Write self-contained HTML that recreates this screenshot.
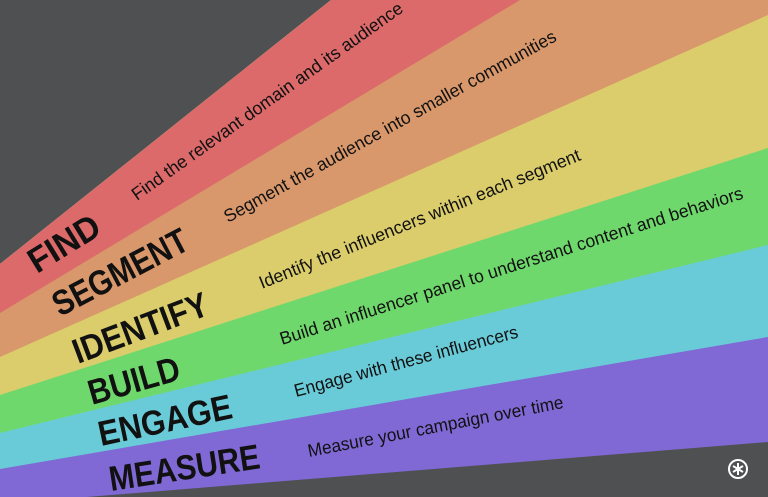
<!DOCTYPE html>
<html><head><meta charset="utf-8"><style>
html,body{margin:0;padding:0;background:#4f5052;}
svg{display:block}
</style></head><body>
<svg width="768" height="497" viewBox="0 0 768 497" xmlns="http://www.w3.org/2000/svg">
<rect width="768" height="497" fill="#4f5052"/>
<polygon points="0,264 331,0 768,0 768,442 0,504" fill="#8069d4"/>
<polygon points="0,264 331,0 768,0 768,337 0,469" fill="#6acbd8"/>
<polygon points="0,264 331,0 768,0 768,245 0,433" fill="#6fd86c"/>
<polygon points="0,264 331,0 768,0 768,148 0,395" fill="#dbcd6c"/>
<polygon points="0,264 331,0 768,0 768,15 0,357" fill="#d8986b"/>
<polygon points="0,264 331,0 520,0 0,313" fill="#dc6a6a"/>
<g font-family="Liberation Sans, sans-serif" fill="#111">
<g font-weight="bold" font-size="35">
<text transform="translate(37,274) rotate(-31.6)" textLength="78" lengthAdjust="spacingAndGlyphs">FIND</text>
<text transform="translate(60,317) rotate(-27.6)" textLength="148" lengthAdjust="spacingAndGlyphs">SEGMENT</text>
<text transform="translate(78,364) rotate(-20.6)" textLength="142" lengthAdjust="spacingAndGlyphs">IDENTIFY</text>
<text transform="translate(92,405) rotate(-16)" textLength="94" lengthAdjust="spacingAndGlyphs">BUILD</text>
<text transform="translate(101,446) rotate(-12)" textLength="136" lengthAdjust="spacingAndGlyphs">ENGAGE</text>
<text transform="translate(111,491) rotate(-8.7)" textLength="152" lengthAdjust="spacingAndGlyphs">MEASURE</text>
</g>
<g font-size="18">
<text transform="translate(137,201) rotate(-35.4)" textLength="328" lengthAdjust="spacingAndGlyphs">Find the relevant domain and its audience</text>
<text transform="translate(228,223) rotate(-29)" textLength="377" lengthAdjust="spacingAndGlyphs">Segment the audience into smaller communities</text>
<text transform="translate(262,289) rotate(-22)" textLength="345" lengthAdjust="spacingAndGlyphs">Identify the influencers within each segment</text>
<text transform="translate(282,345) rotate(-17.6)" textLength="485" lengthAdjust="spacingAndGlyphs">Build an influencer panel to understand content and behaviors</text>
<text transform="translate(296,397) rotate(-15)" textLength="231" lengthAdjust="spacingAndGlyphs">Engage with these influencers</text>
<text transform="translate(309,457) rotate(-10.9)" textLength="260" lengthAdjust="spacingAndGlyphs">Measure your campaign over time</text>
</g>
</g>
<g stroke="#fff" fill="none" stroke-width="2">
<circle cx="738" cy="469" r="9"/>
<line x1="738" y1="463" x2="738" y2="475"/>
<line x1="733" y1="466" x2="743" y2="472"/>
<line x1="733" y1="472" x2="743" y2="466"/>
</g>
</svg>
</body></html>
